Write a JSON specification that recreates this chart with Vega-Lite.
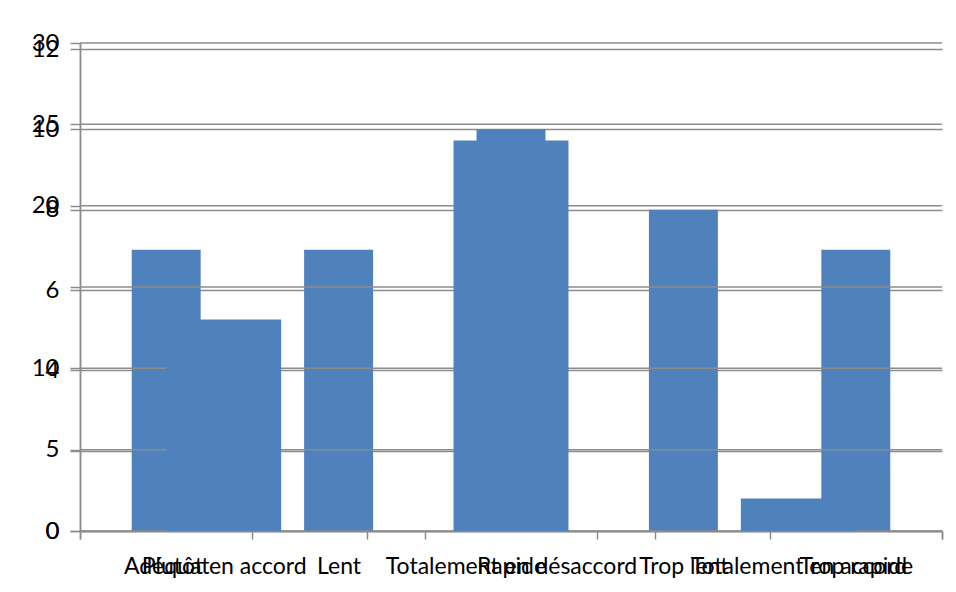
{
  "$schema": "https://vega.github.io/schema/vega-lite/v6.json",
  "width": 862,
  "height": 488,
  "autosize": "none",
  "padding": {"left": 80, "top": 43, "right": 14, "bottom": 61},
  "background": "white",
  "config": {
    "font": "Lato",
    "view": {"stroke": null},
    "axis": {
      "domainColor": "#8c8c8c",
      "tickColor": "#8c8c8c",
      "gridColor": "#8c8c8c",
      "domainWidth": 1.5,
      "tickWidth": 1.5,
      "gridWidth": 1.5,
      "labelFont": "Lato",
      "labelFontSize": 24,
      "labelColor": "#000000",
      "title": null
    }
  },
  "datasets": {
    "vitesse": [
      {"reponse": "Adéquat", "n": 7},
      {"reponse": "Lent", "n": 7},
      {"reponse": "Rapide", "n": 10},
      {"reponse": "Trop lent", "n": 8},
      {"reponse": "Trop rapide", "n": 7}
    ],
    "accord": [
      {"reponse": "Plutôt en accord", "n": 13},
      {"reponse": "Totalement en désaccord", "n": 24},
      {"reponse": "Totalement en accord", "n": 2}
    ],
    "gridB": [
      {"n": 0}, {"n": 5}, {"n": 10}, {"n": 15}, {"n": 20}, {"n": 25}, {"n": 30}
    ]
  },
  "layer": [
    {
      "data": {"name": "vitesse"},
      "mark": {"type": "bar", "color": "#4f81bd", "width": {"band": 0.4}},
      "encoding": {
        "x": {
          "field": "reponse", "type": "nominal", "sort": null,
          "scale": {"paddingInner": 0, "paddingOuter": 0},
          "axis": {"orient": "bottom", "labelAngle": 0, "tickBand": "extent", "tickSize": 8, "labelPadding": 16, "labelFontSize": 23, "labelLimit": 400, "grid": false}
        },
        "y": {
          "field": "n", "type": "quantitative",
          "scale": {"domain": [0, 12.15], "nice": false, "zero": true},
          "axis": {"orient": "left", "values": [0, 2, 4, 6, 8, 10, 12], "grid": true, "tickSize": 10, "labelPadding": 11, "labelExpr": "datum.value == 2 ? '' : datum.label"}
        }
      }
    },
    {
      "layer": [
        {
          "data": {"name": "gridB"},
          "mark": {"type": "rule", "color": "#8c8c8c", "strokeWidth": 1.5},
          "encoding": {
            "y": {
              "field": "n", "type": "quantitative",
              "scale": {"domain": [0, 30], "nice": false},
              "axis": {"orient": "left", "values": [0, 5, 10, 15, 20, 25, 30], "grid": false, "tickSize": 10, "labelPadding": 11, "labelExpr": "datum.value == 15 ? '' : datum.label"}
            }
          }
        },
        {
          "data": {"name": "accord"},
          "mark": {"type": "bar", "color": "#4f81bd", "width": {"band": 0.4}},
          "encoding": {
            "x": {
              "field": "reponse", "type": "nominal", "sort": null,
              "scale": {"paddingInner": 0, "paddingOuter": 0},
              "axis": {"orient": "bottom", "labelAngle": 0, "tickBand": "extent", "tickSize": 8, "labelPadding": 16, "labelFontSize": 23, "labelLimit": 400, "grid": false}
            },
            "y": {
              "field": "n", "type": "quantitative",
              "scale": {"domain": [0, 30], "nice": false},
              "axis": {"orient": "left", "values": [0, 5, 10, 15, 20, 25, 30], "grid": false, "tickSize": 10, "labelPadding": 11, "labelExpr": "datum.value == 15 ? '' : datum.label"}
            }
          }
        }
      ]
    }
  ],
  "resolve": {
    "scale": {"x": "independent", "y": "independent"},
    "axis": {"x": "independent", "y": "independent"}
  }
}
